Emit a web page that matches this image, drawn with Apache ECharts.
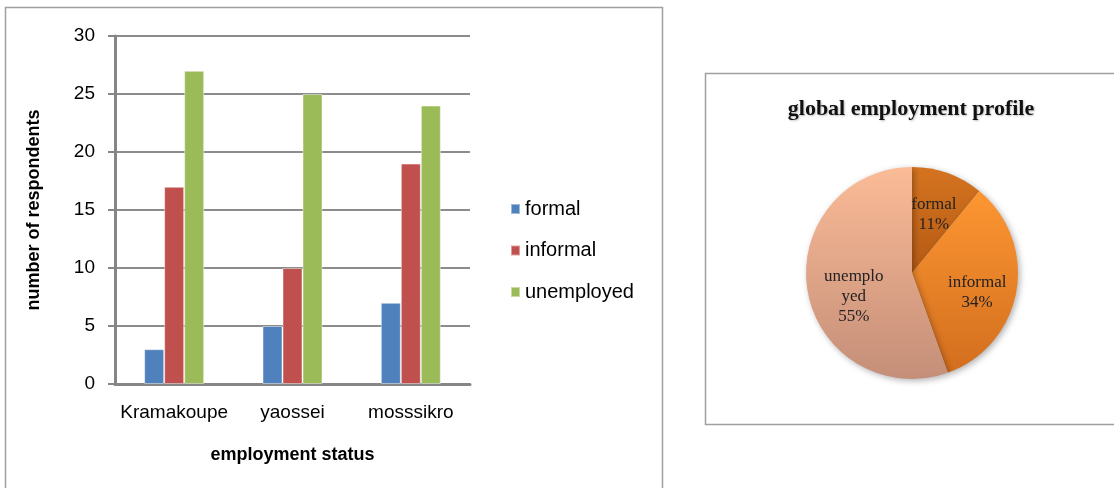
<!DOCTYPE html>
<html>
<head>
<meta charset="utf-8">
<script src="https://cdn.jsdelivr.net/npm/echarts@6/dist/echarts.min.js"></script>
<style>
html,body{margin:0;padding:0;background:#fff;}
#main{width:1114px;height:488px;}
</style>
</head>
<body>
<div id="main"></div>
<script>
// ---- data ----
var categories = ['Kramakoupe', 'yaossei', 'mosssikro'];
var formalValues = [3, 5, 7];
var informalValues = [17, 10, 19];
var unemployedValues = [27, 25, 24];
var seriesNames = ['formal', 'informal', 'unemployed'];
var pieNames = ['formal', 'informal', 'unemployed'];
var pieLabels = ['formal', 'informal', 'unemplo\nyed'];
var pieValues = [15, 46, 76];

var chart = echarts.init(document.getElementById('main'));
var sans = '"Liberation Sans", Arial, sans-serif';
var serif = '"Liberation Serif", "Times New Roman", serif';
var barColors = ['#4f81bd', '#c0504d', '#9bbb59'];

function grad(top, bottom) {
  return new echarts.graphic.LinearGradient(0, 0, 0, 1, [
    {offset: 0, color: top}, {offset: 1, color: bottom}
  ]);
}
var pieColors = [
  grad('#d47420', '#b65a14'),
  grad('#fd9632', '#d26e1e'),
  grad('#fbbb97', '#c48e78')
];
var pieLabelOffsets = [[3, -6], [10, 10], [-3, 14]];

var pieData = pieNames.map(function (n, i) {
  return {name: n, value: pieValues[i], itemStyle: {color: pieColors[i]},
    label: {offset: pieLabelOffsets[i]}};
});

var option = {
  animation: false,
  graphic: [
    {type: 'rect', shape: {x: 5.5, y: 7.5, width: 657, height: 490}, style: {fill: 'none', stroke: '#a0a0a0', lineWidth: 1.5}, z: -1},
    {type: 'rect', shape: {x: 705.5, y: 73.5, width: 420, height: 351}, style: {fill: 'none', stroke: '#a0a0a0', lineWidth: 1.5}, z: -1}
  ],
  title: {
    text: 'global employment profile',
    left: 906, top: 93, textAlign: 'center',
    textStyle: {fontFamily: serif, fontSize: 22, fontWeight: 'bold', color: '#111',
      textShadowColor: 'rgba(0,0,0,0.25)', textShadowBlur: 2, textShadowOffsetX: 1, textShadowOffsetY: 1}
  },
  legend: {
    data: seriesNames,
    orient: 'vertical',
    left: 505, top: 194,
    itemWidth: 9, itemHeight: 10, itemGap: 21.5,
    icon: 'rect',
    textStyle: {fontFamily: sans, fontSize: 20, color: '#000'}
  },
  grid: {left: 115, right: 644, top: 36, bottom: 104},
  xAxis: {
    type: 'category',
    data: categories,
    axisLine: {lineStyle: {color: '#868686', width: 3}},
    axisTick: {show: false},
    axisLabel: {fontFamily: sans, fontSize: 19, color: '#000', margin: 19, interval: 0},
    name: 'employment status',
    nameLocation: 'middle',
    nameGap: 62,
    nameTextStyle: {fontFamily: sans, fontSize: 18, fontWeight: 'bold', color: '#000'}
  },
  yAxis: {
    type: 'value',
    min: 0, max: 30, interval: 5,
    axisLine: {show: true, lineStyle: {color: '#868686', width: 3}},
    axisTick: {show: true, length: 7, lineStyle: {color: '#868686', width: 2}},
    splitLine: {lineStyle: {color: '#8c8c8c', width: 2}},
    axisLabel: {fontFamily: sans, fontSize: 19, color: '#000', margin: 20},
    name: 'number of respondents',
    nameLocation: 'middle',
    nameGap: 72,
    nameTextStyle: {fontFamily: sans, fontSize: 18, fontWeight: 'bold', color: '#000'}
  },
  series: [
    {name: seriesNames[0], type: 'bar', data: formalValues, barWidth: 20, barGap: '0%',
      itemStyle: {color: barColors[0], borderColor: 'rgba(255,255,255,0.45)', borderWidth: 1}},
    {name: seriesNames[1], type: 'bar', data: informalValues, barWidth: 20, barGap: '0%',
      itemStyle: {color: barColors[1], borderColor: 'rgba(255,255,255,0.45)', borderWidth: 1}},
    {name: seriesNames[2], type: 'bar', data: unemployedValues, barWidth: 20, barGap: '0%',
      itemStyle: {color: barColors[2], borderColor: 'rgba(255,255,255,0.45)', borderWidth: 1}},
    {
      type: 'pie',
      center: [912, 273],
      radius: 106,
      startAngle: 90,
      clockwise: true,
      data: pieData,
      percentPrecision: 0,
      itemStyle: {shadowBlur: 6, shadowColor: 'rgba(0,0,0,0.3)', shadowOffsetX: 2, shadowOffsetY: 2},
      label: {
        position: 'inside',
        fontFamily: serif, fontSize: 17, color: '#222', lineHeight: 20,
        formatter: function (p) { return pieLabels[p.dataIndex] + '\n' + p.percent + '%'; }
      },
      labelLine: {show: false},
      emphasis: {disabled: true}
    }
  ]
};
chart.setOption(option);
</script>
</body>
</html>
